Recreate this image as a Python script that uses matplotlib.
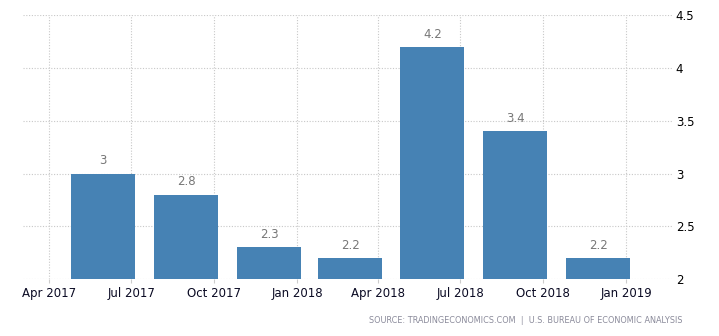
import matplotlib
matplotlib.use("Agg")
import matplotlib.pyplot as plt
import matplotlib.dates as mdates
import pandas as pd

# quarterly values, stamped at quarter end
quarters = ["2017-06-30", "2017-09-30", "2017-12-31", "2018-03-31",
            "2018-06-30", "2018-09-30", "2018-12-31"]
values = [3.0, 2.8, 2.3, 2.2, 4.2, 3.4, 2.2]
tick_dates = ["2017-04-01", "2017-07-01", "2017-10-01", "2018-01-01",
              "2018-04-01", "2018-07-01", "2018-10-01", "2019-01-01"]
yticks = [2, 2.5, 3, 3.5, 4, 4.5]
source = "SOURCE: TRADINGECONOMICS.COM  |  U.S. BUREAU OF ECONOMIC ANALYSIS"

dates = pd.to_datetime(quarters) - pd.Timedelta(days=30)

fig = plt.figure(figsize=(7.19, 3.36), dpi=100)
ax = fig.add_axes([0.032, 0.1696, 0.904, 0.785])

ax.bar(dates, values, width=71, color="#4682b4", zorder=3)
for d, v in zip(dates, values):
    ax.annotate(f"{v:g}", (d, v), xytext=(0, 4.5), textcoords="offset points",
                ha="center", va="bottom", fontsize=8.5, color="#777777")

ax.set_ylim(2, 4.5)
ax.set_xlim(pd.Timestamp("2017-03-03"), pd.Timestamp("2019-02-22"))
ax.set_yticks(yticks)
ax.set_yticklabels([f"{t:g}" for t in yticks])
ax.yaxis.tick_right()
ax.set_xticks(pd.to_datetime(tick_dates))
ax.xaxis.set_major_formatter(mdates.DateFormatter("%b %Y"))

ax.tick_params(axis="y", length=0, pad=2, labelsize=8.5, labelcolor="#000000")
ax.tick_params(axis="x", length=3, width=0.8, color="#cccccc", pad=2.5,
               labelsize=8.5, labelcolor="#0a0a23")
ax.grid(True, linestyle=(0, (1, 1.5)), color="#c8c8c8", linewidth=0.8, zorder=0)
for s in ax.spines.values():
    s.set_visible(False)

fig.text(0.949, 0.045, source, ha="right", va="center", fontsize=5.9,
         color="#8a8a9a")

fig.savefig("out.png", dpi=100)
